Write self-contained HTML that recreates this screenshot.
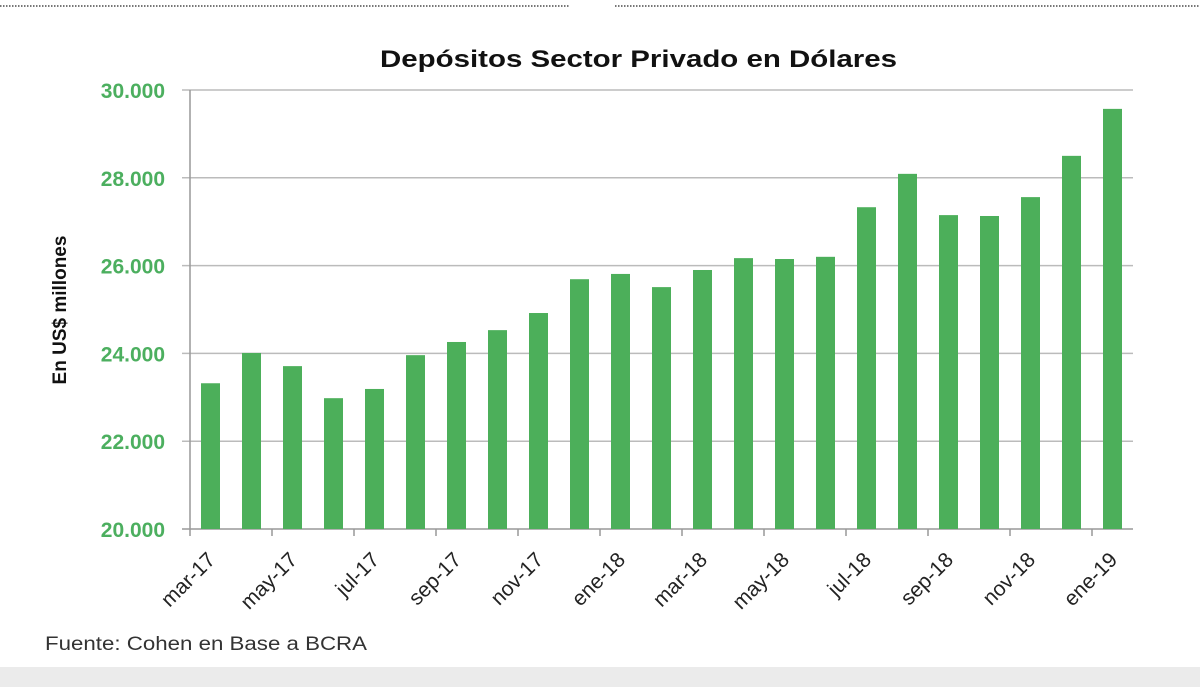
<!DOCTYPE html>
<html><head><meta charset="utf-8"><style>
body{margin:0;background:#fff;width:1200px;height:687px;overflow:hidden;font-family:"Liberation Sans",sans-serif}
</style></head><body>
<svg width="1200" height="687">
<line x1="0" y1="6" x2="570" y2="6" stroke="#777" stroke-width="2" stroke-dasharray="1.5,1.5"/>
<line x1="615" y1="6" x2="1200" y2="6" stroke="#777" stroke-width="2" stroke-dasharray="1.5,1.5"/>
<text x="380" y="67" textLength="517" lengthAdjust="spacingAndGlyphs" font-size="24" font-weight="bold" fill="#111">Depósitos Sector Privado en Dólares</text>
<text transform="translate(66,310) rotate(-90)" text-anchor="middle" font-size="19" font-weight="bold" fill="#111">En US$ millones</text>
<g id="grid"></g><g id="bars"></g><g id="xl"></g>
<text x="45" y="650" textLength="322" lengthAdjust="spacingAndGlyphs" font-size="19" fill="#333">Fuente: Cohen en Base a BCRA</text>
<rect x="0" y="667" width="1200" height="20" fill="#ebebeb"/>
</svg>
<script>
const categories=["mar-17","abr-17","may-17","jun-17","jul-17","ago-17","sep-17","oct-17","nov-17","dic-17","ene-18","feb-18","mar-18","abr-18","may-18","jun-18","jul-18","ago-18","sep-18","oct-18","nov-18","dic-18","ene-19"];
const values=[23320,24010,23710,22980,23190,23960,24260,24530,24920,25690,25810,25510,25900,26170,26150,26200,27330,28090,27150,27130,27560,28500,29570];
const yTicks=[20000,22000,24000,26000,28000,30000];
const yTickLabels=["20.000","22.000","24.000","26.000","28.000","30.000"];
const NS="http://www.w3.org/2000/svg";
const X0=190,X1=1133,Y0=529,Y1=90,ymin=20000,ymax=30000;
const bw=(X1-X0)/categories.length;
const y=v=>Y0-(v-ymin)/(ymax-ymin)*(Y0-Y1);
const x=i=>X0+bw*(i+0.5);
function mk(t,a,p){const e=document.createElementNS(NS,t);for(const k in a)e.setAttribute(k,a[k]);p.appendChild(e);return e;}
const g=document.getElementById('grid'),b=document.getElementById('bars'),xl=document.getElementById('xl');
yTicks.forEach((v,i)=>{
 const l=mk('line',{x1:X0-8,x2:X1,y1:y(v),y2:y(v),stroke:i==0?'#999':'#bbb','stroke-width':1.5},g);
 
 
 const t=mk('text',{x:165,y:y(v)+8,'text-anchor':'end','font-size':21,'font-weight':'bold',fill:'#4caf5f'},g);
 t.textContent=yTickLabels[i];
 
 
});
const ax=mk('line',{x1:X0,x2:X0,y1:Y1,y2:Y0,stroke:'#999','stroke-width':1.5},g);


values.forEach((v,i)=>{
 const r=mk('rect',{x:x(i)-9.5,y:y(v),width:19,height:Y0-y(v),fill:'#4caf5a'},b);
 
 
});
categories.forEach((c,i)=>{
 if(i%2)return;
 const tk=mk('line',{x1:X0+bw*i,x2:X0+bw*i,y1:Y0,y2:Y0+7,stroke:'#999','stroke-width':1.5},xl);
 
 
 const t=mk('text',{transform:`translate(${x(i)+6},${Y0+32}) rotate(-45)`,'text-anchor':'end','font-size':21,fill:'#222'},xl);
 t.textContent=c;
 
 
});
</script>
</body></html>
